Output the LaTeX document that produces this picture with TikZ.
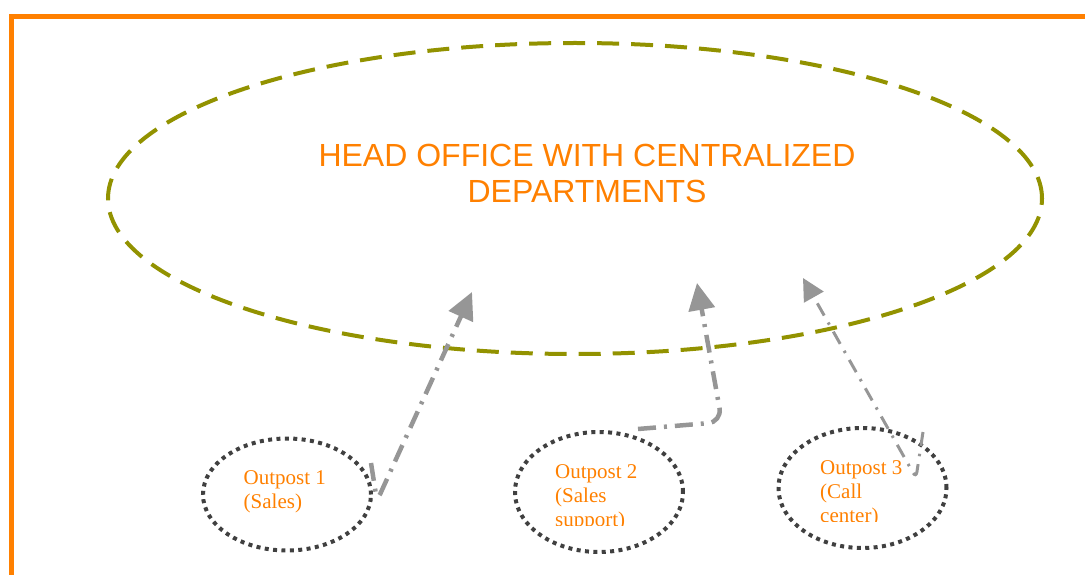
\documentclass[tikz,border=0pt]{standalone}
\usepackage{fontspec}
\setmainfont{Liberation Serif}
\newfontfamily\headfont{Liberation Sans}
\usetikzlibrary{shapes.geometric,arrows.meta}
\definecolor{frameorange}{RGB}{255,128,0}
\definecolor{headolive}{RGB}{146,146,0}
\definecolor{linkgray}{RGB}{150,150,150}
\definecolor{dotgray}{RGB}{64,64,64}
\tikzset{
  frame/.style={draw=frameorange, line width=5.5pt},
  headoval/.style={ellipse, draw=headolive, line width=4pt,
    dash pattern=on 22pt off 12pt, inner sep=0pt,
    minimum width=934pt, minimum height=311pt},
  headtext/.style={text=frameorange, align=center, inner sep=0pt,
    font=\headfont\fontsize{32}{36}\selectfont},
  outpost/.style={ellipse, draw=dotgray, line width=4pt,
    dash pattern=on 4pt off 4.4pt, inner sep=0pt, minimum width=168pt},
  outposttext/.style={text=frameorange, align=left, inner sep=0pt,
    font=\fontsize{21}{24}\selectfont},
  link/.style={draw=linkgray, line width=4.5pt,
    dash pattern=on 18pt off 8pt on 3pt off 8pt,
    -{Triangle[length=27pt,width=26pt]}},
  thinlink/.style={draw=linkgray, line width=3pt,
    dash pattern=on 14pt off 8pt on 2.5pt off 8pt,
    -{Triangle[length=22pt,width=22pt]}}
}
\begin{document}
\begin{tikzpicture}[x=1pt,y=-1pt]
\useasboundingbox (0,0) rectangle (1085,575);
\clip (0,0) rectangle (1085,575);

% outer frame, running off the right and bottom edges
\coordinate (fb) at (11.5,600);
\coordinate (fc) at (11.5,16.5);
\coordinate (fr) at (1100,16.5);
\draw[frame] (fb) -- (fc) -- (fr);

% head office (base anchor sits on the last line)
\node[headoval] (head) at (575,198.5) {};
\node[headtext, anchor=base] (headlabel) at (587,203)
  {HEAD OFFICE WITH CENTRALIZED\\DEPARTMENTS};

% outposts
\node[outpost, minimum height=112pt] (o1) at (287,494.5) {};
\node[outpost, minimum height=120pt] (o2) at (599,492) {};
\node[outpost, minimum height=120pt] (o3) at (862.5,488) {};

\node[outposttext, anchor=base west] (l1) at (243.5,508) {Outpost 1\\(Sales)};
\begin{scope}
  \clip (540,440) rectangle (680,525);
  \node[outposttext, anchor=base west] (l2) at (555,526.5) {Outpost 2\\(Sales\\support)};
\end{scope}
\begin{scope}
  \clip (800,440) rectangle (940,521);
  \node[outposttext, anchor=base west] (l3) at (820,522) {Outpost 3\\(Call\\center)};
\end{scope}

% links from the outposts up to the head office
\coordinate (a1s) at (371,463);
\coordinate (a1c) at (377,501);
\coordinate (a1e) at (472,292);
\draw[link, rounded corners=8pt] (a1s) -- (a1c) -- (a1e);

\coordinate (a2s) at (638,429);
\coordinate (a2c) at (722,422);
\coordinate (a2e) at (697,283);
\draw[link, rounded corners=14pt] (a2s) -- (a2c) -- (a2e);

\coordinate (a3s) at (923,432);
\coordinate (a3c) at (916,478);
\coordinate (a3e) at (803,278);
\draw[thinlink, rounded corners=6pt] (a3s) -- (a3c) -- (a3e);
\end{tikzpicture}
\end{document}
